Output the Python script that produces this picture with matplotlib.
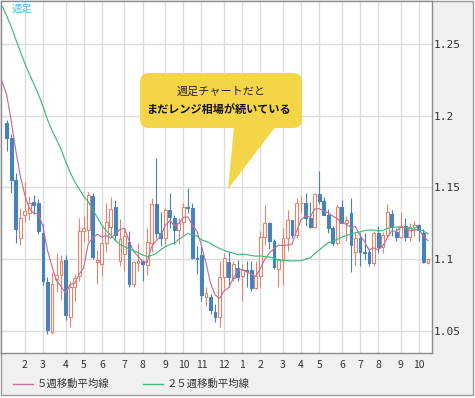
import numpy as np
import pandas as pd
import matplotlib
matplotlib.use("Agg")
import matplotlib.pyplot as plt
from matplotlib.patches import FancyBboxPatch, Polygon, Rectangle
from matplotlib.lines import Line2D
from matplotlib.transforms import IdentityTransform, ScaledTranslation

plt.rcParams['font.family'] = ['Noto Sans CJK JP', 'DejaVu Sans']

# weekly candles, first week = 2015-01-05
opens = [1.1950, 1.1845, 1.1555, 1.1150, 1.1310, 1.1320, 1.1400, 1.1390, 1.1180, 1.0840,
         1.0490, 1.0865, 1.0890, 1.0995, 1.0600, 1.0810, 1.0880, 1.1197, 1.1205, 1.1440,
         1.0983, 1.0970, 1.1110, 1.1227, 1.1366, 1.0990, 1.1040, 1.1122, 1.0830, 1.0972,
         1.0985, 1.0960, 1.1110, 1.1385, 1.1180, 1.1150, 1.1343, 1.1290, 1.1205, 1.1261,
         1.1366, 1.1355, 1.1010, 1.1029, 1.0739, 1.0739, 1.0634, 1.0599, 1.0878, 1.0983,
         1.0870, 1.0939, 1.0880, 1.0925, 1.0925, 1.0800, 1.0880, 1.1155, 1.1255, 1.1130,
         1.0935, 1.1000, 1.1150, 1.1270, 1.1170, 1.1390, 1.1395, 1.1285, 1.1225, 1.1455,
         1.1405, 1.1310, 1.1220, 1.1115, 1.1365, 1.1250, 1.1320, 1.1050, 1.1148, 1.1053,
         1.1053, 1.0971, 1.1180, 1.1087, 1.1169, 1.1315, 1.1192, 1.1157, 1.1235, 1.1155,
         1.1225, 1.1238, 1.1185, 1.0975]
highs = [1.1970, 1.1870, 1.1600, 1.1355, 1.1535, 1.1440, 1.1450, 1.1420, 1.1245, 1.0875,
         1.0910, 1.1045, 1.1030, 1.1030, 1.0850, 1.0895, 1.1290, 1.1300, 1.1470, 1.1460,
         1.1065, 1.1230, 1.1390, 1.1436, 1.1410, 1.1280, 1.1215, 1.1195, 1.0990, 1.1115,
         1.0995, 1.1215, 1.1430, 1.1705, 1.1330, 1.1360, 1.1460, 1.1310, 1.1285, 1.1390,
         1.1495, 1.1390, 1.1095, 1.1095, 1.0805, 1.0760, 1.0690, 1.0985, 1.1045, 1.1060,
         1.0990, 1.0995, 1.0970, 1.0990, 1.0990, 1.0985, 1.1200, 1.1376, 1.1260, 1.1140,
         1.1000, 1.1218, 1.1340, 1.1275, 1.1430, 1.1440, 1.1465, 1.1400, 1.1460, 1.1616,
         1.1435, 1.1350, 1.1235, 1.1375, 1.1415, 1.1300, 1.1427, 1.1185, 1.1185, 1.1185,
         1.1075, 1.1198, 1.1235, 1.1190, 1.1385, 1.1345, 1.1220, 1.1330, 1.1285, 1.1255,
         1.1265, 1.1245, 1.1210, 1.0990]
lows = [1.1755, 1.1460, 1.1115, 1.1100, 1.1260, 1.1270, 1.1315, 1.1175, 1.0820, 1.0480,
        1.0480, 1.0775, 1.0715, 1.0580, 1.0525, 1.0710, 1.0850, 1.1120, 1.1130, 1.1000,
        1.0830, 1.0885, 1.1050, 1.1170, 1.1130, 1.0955, 1.0915, 1.0810, 1.0805, 1.0920,
        1.0850, 1.0890, 1.1050, 1.1150, 1.1090, 1.1100, 1.1220, 1.1105, 1.1105, 1.1170,
        1.1325, 1.1005, 1.0895, 1.0710, 1.0675, 1.0615, 1.0565, 1.0525, 1.0795, 1.0805,
        1.0850, 1.0850, 1.0711, 1.0805, 1.0778, 1.0790, 1.0810, 1.1100, 1.1070, 1.0935,
        1.0810, 1.0820, 1.1055, 1.1145, 1.1145, 1.1325, 1.1235, 1.1215, 1.1215, 1.1385,
        1.1310, 1.1180, 1.1095, 1.1100, 1.1250, 1.1130, 1.0912, 1.0960, 1.0952, 1.1000,
        1.0950, 1.0950, 1.1045, 1.1045, 1.1150, 1.1160, 1.1125, 1.1150, 1.1130, 1.1125,
        1.1160, 1.1125, 1.0975, 1.0970]
closes = [1.1845, 1.1555, 1.1210, 1.1285, 1.1335, 1.1390, 1.1380, 1.1195, 1.0845, 1.0505,
          1.0825, 1.0890, 1.0985, 1.0610, 1.0810, 1.0870, 1.1200, 1.1215, 1.1445, 1.1015,
          1.0993, 1.1115, 1.1260, 1.1350, 1.1169, 1.1140, 1.1160, 1.0830, 1.0983, 1.0985,
          1.0970, 1.1120, 1.1385, 1.1180, 1.1150, 1.1340, 1.1296, 1.1205, 1.1255, 1.1366,
          1.1355, 1.1006, 1.1000, 1.0750, 1.0764, 1.0646, 1.0599, 1.0878, 1.1006, 1.0878,
          1.0965, 1.0878, 1.0925, 1.0915, 1.0799, 1.0880, 1.1155, 1.1255, 1.1130, 1.0945,
          1.1000, 1.1150, 1.1270, 1.1170, 1.1390, 1.1395, 1.1285, 1.1225, 1.1455, 1.1405,
          1.1310, 1.1220, 1.1115, 1.1365, 1.1250, 1.1275, 1.1100, 1.1150, 1.1053, 1.1043,
          1.0971, 1.1180, 1.1087, 1.1169, 1.1330, 1.1227, 1.1157, 1.1232, 1.1155, 1.1225,
          1.1240, 1.1203, 1.0983, 1.1000]
# closes of the 25 weeks before the window (needed for the moving averages)
prior_closes = [1.3525, 1.3430, 1.3425, 1.3410, 1.3400, 1.3240, 1.3130, 1.2950, 1.2965, 1.2830,
                1.2685, 1.2525, 1.2625, 1.2760, 1.2670, 1.2525, 1.2450, 1.2525, 1.2390, 1.2450,
                1.2290, 1.2465, 1.2230, 1.2185, 1.2000]

y_ticks = [1.05, 1.1, 1.15, 1.2, 1.25]
y_labels = ['1.05', '1.1', '1.15', '1.2', '1.25']
legend_labels = ['５週移動平均線', '２５週移動平均線']

UP = '#e8836b'
DOWN = '#4582be'
MA5_C = '#c0719b'
MA25_C = '#3fb97c'

W, H = 475, 398
fig = plt.figure(figsize=(W / 100, H / 100), dpi=100, facecolor='white')
px = IdentityTransform()

bg = Rectangle((0.5, 3.5), 472, 394, transform=px, facecolor='#f0f0f0',
               edgecolor='#9a9a9a', lw=1, zorder=-1)
fig.add_artist(bg)

ax = fig.add_axes([1 / W, 45 / H, 431 / W, 352 / H])
ax.set_facecolor('white')

x = np.arange(len(closes))
o = np.array(opens); c = np.array(closes)
hi = np.array(highs); lo = np.array(lows)
up = c >= o
cols = np.where(up, UP, DOWN)

ax.vlines(x, lo, hi, colors=cols, lw=0.8, zorder=2)
body_h = np.maximum(np.abs(c - o), 0.0004)
ax.bar(x, body_h, bottom=np.minimum(o, c), width=0.62,
       facecolor=np.where(up, 'white', DOWN), edgecolor=cols, lw=0.8, zorder=3)

# moving averages
allc = pd.Series(prior_closes + closes)
xa = np.arange(-len(prior_closes), len(closes))
ma5 = allc.rolling(5).mean()
ma25 = allc.rolling(25).mean()
ax.plot(xa, ma5, color=MA5_C, lw=0.85, zorder=4)
ax.plot(xa, ma25, color=MA25_C, lw=0.85, zorder=4)

# month ticks
weeks = pd.date_range('2015-01-05', periods=len(closes), freq='W-MON')
month_idx = [i for i in range(1, len(weeks)) if weeks[i].month != weeks[i - 1].month]
ax.set_xticks(month_idx)
ax.set_xticklabels([str(weeks[i].month) for i in month_idx], fontsize=7.5, color='#333333')
shift = ScaledTranslation(-1.5 / 100, 0, fig.dpi_scale_trans)
for lab in ax.get_xticklabels():
    lab.set_transform(lab.get_transform() + shift)
ax.set_xlim(-1.26, 93.9)
ax.set_ylim(1.03466, 1.27997)
ax.yaxis.tick_right()
ax.set_yticks(y_ticks)
ax.set_yticklabels(y_labels, family='DejaVu Sans Mono', fontsize=8, color='#333333')
ax.tick_params(axis='both', length=0)
ax.tick_params(axis='x', pad=5)
ax.tick_params(axis='y', pad=1.5)
ax.grid(True, color='#dcdcdc', lw=1)
ax.set_axisbelow(True)
for s in ax.spines.values():
    s.set_color('#8a8a8a')
    s.set_linewidth(1)

fig.text(12 / W, 1 - 4 / H, '週足', color='#55b9e6', fontsize=7.5, va='top', ha='left')

# speech bubble
box = FancyBboxPatch((140, H - 128), 162, 55, boxstyle='round,pad=0,rounding_size=9',
                     transform=px, facecolor='#f5d548', edgecolor='none', zorder=5)
tail = Polygon([(234, H - 126), (276, H - 126), (228, H - 189)], closed=True,
               transform=px, facecolor='#f5d548', edgecolor='none', zorder=5)
fig.add_artist(box)
fig.add_artist(tail)
fig.text(221 / W, 1 - 92 / H, '週足チャートだと', ha='center', va='center',
         fontsize=8, color='#222222', zorder=6)
fig.text(218.5 / W, 1 - 110 / H, 'まだレンジ相場が続いている', ha='center', va='center',
         fontsize=8, fontweight='bold', color='#111111', zorder=6)

# legend
for (x0, col, lab) in [(13, MA5_C, legend_labels[0]), (143, MA25_C, legend_labels[1])]:
    fig.add_artist(Line2D([x0, x0 + 20], [H - 384, H - 384], transform=px, color=col, lw=1))
    fig.text((x0 + 24) / W, 1 - 384 / H, lab, ha='left', va='center',
             fontsize=7.5, color='#333333')

fig.savefig('out.png', dpi=100)
